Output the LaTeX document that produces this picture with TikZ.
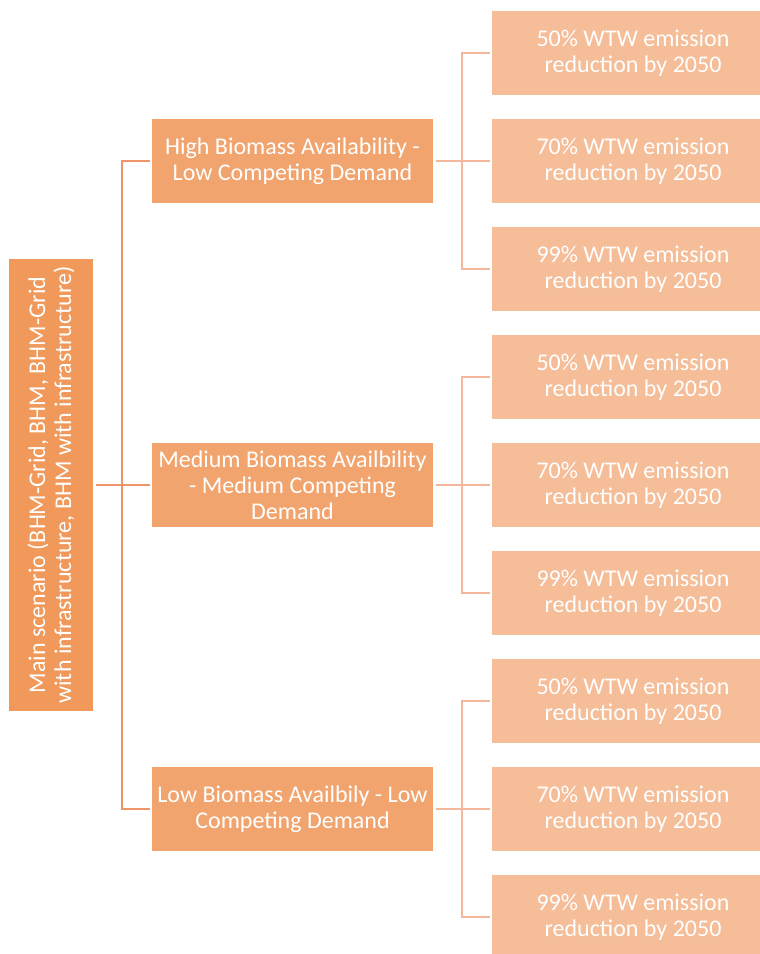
\documentclass[tikz,border=0pt]{standalone}
\usepackage{fontspec}
\setmainfont{Carlito}
\definecolor{rootfill}{HTML}{F0995A}
\definecolor{midfill}{HTML}{F1A46E}
\definecolor{leaffill}{HTML}{F5BD98}
\definecolor{rootline}{HTML}{F0946A}
\definecolor{leafline}{HTML}{F5B89E}
\begin{document}
\begin{tikzpicture}[x=1pt,y=-1pt,
  box/.style={inner sep=0pt, align=center, text=white,
    font=\fontsize{24}{26}\selectfont},
  rootbox/.style={box, fill=rootfill, minimum width=452pt, minimum height=84pt, rotate=90},
  midbox/.style={box, fill=midfill, minimum width=281pt, minimum height=84pt},
  leafbox/.style={box, fill=leaffill, minimum width=282pt, minimum height=84pt},
  rootlink/.style={draw=rootline, line width=2.6pt},
  leaflink/.style={draw=leafline, line width=2.6pt}]
\useasboundingbox (0,0) rectangle (760,954);
\clip (0,0) rectangle (760,954);

% root scenario
\node[rootbox] (root) at (51,485) {Main scenario (BHM-Grid, BHM, BHM-Grid\\with infrastructure, BHM with infrastructure)};

% biomass availability cases
\node[midbox] (hi)  at (292.5,161) {High Biomass Availability -\\Low Competing Demand};
\node[midbox] (med) at (292.5,485) {Medium Biomass Availbility\\- Medium Competing\\Demand};
\node[midbox] (lo)  at (292.5,809) {Low Biomass Availbily - Low\\Competing Demand};

% emission reduction targets
\node[leafbox] (hi1)  at (633,53)  {50\% WTW emission\\reduction by 2050};
\node[leafbox] (hi2)  at (633,161) {70\% WTW emission\\reduction by 2050};
\node[leafbox] (hi3)  at (633,269) {99\% WTW emission\\reduction by 2050};
\node[leafbox] (med1) at (633,377) {50\% WTW emission\\reduction by 2050};
\node[leafbox] (med2) at (633,485) {70\% WTW emission\\reduction by 2050};
\node[leafbox] (med3) at (633,593) {99\% WTW emission\\reduction by 2050};
\node[leafbox] (lo1)  at (633,701) {50\% WTW emission\\reduction by 2050};
\node[leafbox] (lo2)  at (633,809) {70\% WTW emission\\reduction by 2050};
\node[leafbox] (lo3)  at (633,917) {99\% WTW emission\\reduction by 2050};

% root to cases
\draw[rootlink, shorten <=2pt, shorten >=2pt] (hi.west) -- ++(-30,0) |- (lo.west);
\draw[rootlink, shorten <=3pt, shorten >=2pt] (root.south) -- (root.south -| med.west);

% cases to targets
\foreach \m in {hi,med,lo}{
  \draw[leaflink, shorten <=2pt, shorten >=2pt] (\m1.west) -- ++(-30,0) |- (\m3.west);
  \draw[leaflink, shorten <=3pt, shorten >=2pt] (\m.east) -- (\m.east -| \m2.west);
}
\end{tikzpicture}
\end{document}
